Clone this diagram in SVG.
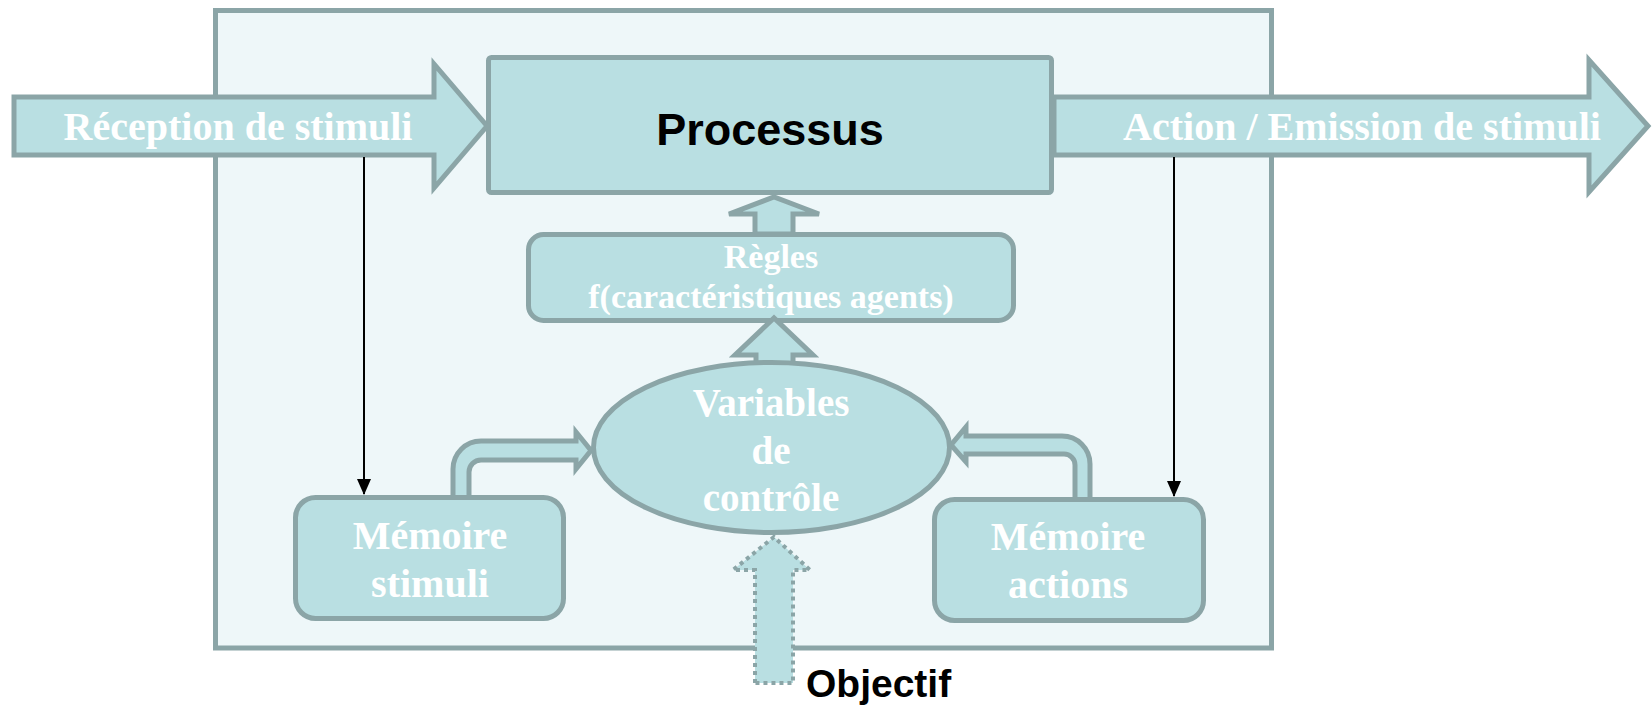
<svg xmlns="http://www.w3.org/2000/svg" width="1652" height="707" viewBox="0 0 1652 707">
<defs>
<style>
.shape{fill:#B9DFE2;stroke:#8BA5A7;stroke-width:5;stroke-linejoin:miter}
.rshape{fill:#B9DFE2;stroke:#8BA5A7;stroke-width:5}
.wt{font-family:"Liberation Serif","Times New Roman",serif;font-weight:bold;fill:#FFFFFF;text-anchor:middle}
.bt{font-family:"Liberation Sans",Arial,sans-serif;font-weight:bold;fill:#000000}
.thin{stroke:#000000;stroke-width:2;fill:none}
</style>
<marker id="ah" markerWidth="16" markerHeight="14" refX="15" refY="7" orient="auto" markerUnits="userSpaceOnUse">
<path d="M0,0 L16,7 L0,14 Z" fill="#000000"/>
</marker>
</defs>
<rect id="frame" x="215.5" y="10.5" width="1056" height="637.5" fill="#EEF7F9" stroke="#8BA5A7" stroke-width="5"/>
<g id="action">
<polygon class="shape" points="1054,97 1589,97 1589,60 1648,126 1589,192 1589,155 1054,155"/>
<text class="wt" x="1362" y="140" font-size="40">Action / Emission de stimuli</text>
</g>
<g id="processus">
<rect class="shape" x="488.5" y="57.5" width="563" height="135" rx="3"/>
<text class="bt" x="770" y="145" font-size="45" text-anchor="middle">Processus</text>
</g>
<g id="reception">
<polygon class="shape" points="14,97 434,97 434,64 487,126 434,188 434,155 14,155"/>
<text class="wt" x="238" y="140" font-size="40">Réception de stimuli</text>
</g>
<g id="connectors">
<polygon class="shape" points="755,234 755,214 729,214 774,197 819,214 793,214 793,234"/>
<path class="shape" d="M453,505 L453,469 A28,28 0 0 1 481,441 L576,441 L576,432 L591,450.5 L576,469 L576,460 L481,460 A12,12 0 0 0 469,472 L469,505 Z"/>
<path class="shape" d="M1090,505 L1090,464 A28,28 0 0 0 1062,436 L966,436 L966,427 L951,445 L966,462 L966,454 L1064,454 A11,11 0 0 1 1075,465 L1075,505 Z"/>
<line class="thin" x1="364" y1="157" x2="364" y2="494" marker-end="url(#ah)"/>
<line class="thin" x1="1174" y1="157" x2="1174" y2="496" marker-end="url(#ah)"/>
<polygon points="755,683 755,570 733,570 774,537 810,570 793,570 793,683" fill="#B9DFE2" stroke="#8BA5A7" stroke-width="4" stroke-dasharray="4 4"/>
</g>
<g id="regles">
<rect class="rshape" x="528.5" y="234.5" width="485" height="86" rx="15"/>
<text class="wt" x="771" y="268" font-size="34">Règles</text>
<text class="wt" x="771" y="308" font-size="34">f(caractéristiques agents)</text>
</g>
<g id="regles-arrow">
<polygon class="shape" points="756,380 756,355 735,355 774,318 813,355 793,355 793,380"/>
</g>
<g id="variables">
<ellipse class="rshape" cx="771.5" cy="447.5" rx="178" ry="85"/>
<text class="wt" x="771" y="416" font-size="39">Variables</text>
<text class="wt" x="771" y="464" font-size="39">de</text>
<text class="wt" x="771" y="511" font-size="39">contrôle</text>
</g>
<g id="memoire-stimuli">
<rect class="rshape" x="295.5" y="497.5" width="268" height="121" rx="20"/>
<text class="wt" x="430" y="549" font-size="40">Mémoire</text>
<text class="wt" x="430" y="597" font-size="40">stimuli</text>
</g>
<g id="memoire-actions">
<rect class="rshape" x="934.5" y="499.5" width="269" height="121" rx="20"/>
<text class="wt" x="1068" y="550" font-size="40">Mémoire</text>
<text class="wt" x="1068" y="598" font-size="40">actions</text>
</g>
<g id="objectif">
<text class="bt" x="806" y="697" font-size="39">Objectif</text>
</g>
</svg>
